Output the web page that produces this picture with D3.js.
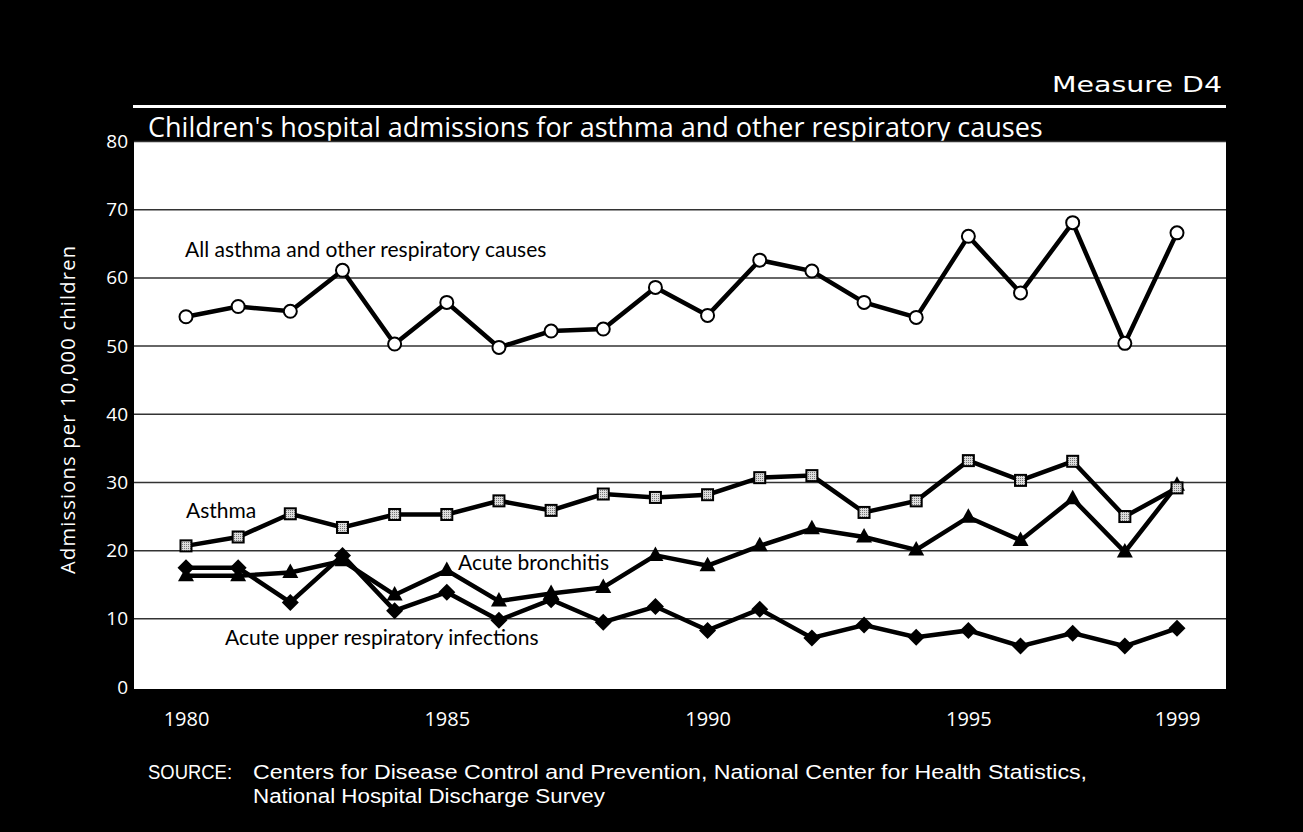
<!DOCTYPE html>
<html><head><meta charset="utf-8">
<script src="https://cdn.jsdelivr.net/npm/d3@7"></script>
<style>
html,body{margin:0;padding:0;background:#000;}
svg{display:block;}
</style></head>
<body>
<script>
const years = [1980,1981,1982,1983,1984,1985,1986,1987,1988,1989,1990,1991,1992,1993,1994,1995,1996,1997,1998,1999];
const allCauses = [54.3,55.8,55.1,61.1,50.3,56.4,49.8,52.2,52.5,58.6,54.5,62.6,61.0,56.4,54.2,66.1,57.8,68.1,50.4,66.6];
const asthma = [20.7,22.0,25.4,23.4,25.3,25.3,27.3,25.9,28.3,27.8,28.2,30.7,31.0,25.6,27.3,33.2,30.3,33.1,25.0,29.2];
const bronchitis = [16.3,16.3,16.8,18.5,13.5,17.1,12.6,13.7,14.6,19.3,17.8,20.7,23.2,22.0,20.1,24.9,21.5,27.6,19.8,29.6];
const upperResp = [17.5,17.5,12.4,19.3,11.2,13.9,9.8,12.8,9.5,11.8,8.3,11.4,7.2,9.1,7.3,8.3,6.0,7.9,6.0,8.6];
const yTicks = [0,10,20,30,40,50,60,70,80];
const xTickYears = [1980,1985,1990,1995,1999];
const seriesLabels = ["All asthma and other respiratory causes","Asthma","Acute bronchitis","Acute upper respiratory infections"];

const W = 1303, H = 832;
const svg = d3.select("body").append("svg").attr("width",W).attr("height",H);
svg.append("rect").attr("width",W).attr("height",H).attr("fill","#000");

const plot = {left:134, right:1226, top:142, bottom:689};
const x = d3.scaleLinear().domain([1980,1999]).range([186,1177]);
const y = d3.scaleLinear().domain([0,80]).range([687,141.5]);
const serif = "'Open Sans', 'Noto Sans', sans-serif";

// header
svg.append("text").attr("x",1222).attr("y",92).attr("text-anchor","end")
  .attr("fill","#fff").attr("font-family","'DejaVu Sans', sans-serif").attr("font-size",22)
  .attr("textLength",170).attr("lengthAdjust","spacingAndGlyphs")
  .text("Measure D4");
svg.append("rect").attr("x",133).attr("y",105).attr("width",1093).attr("height",3).attr("fill","#fff");
svg.append("text").attr("x",148).attr("y",137).attr("fill","#fff")
  .attr("font-family",serif).attr("font-size",27)
  .text("Children's hospital admissions for asthma and other respiratory causes");

// plot background
svg.append("rect").attr("x",plot.left).attr("y",plot.top).attr("width",plot.right-plot.left)
  .attr("height",plot.bottom-plot.top).attr("fill","#fff");

// gridlines
svg.append("g").selectAll("line").data(yTicks.filter(d=>d>0)).join("line")
  .attr("x1",plot.left).attr("x2",plot.right)
  .attr("y1",d=>y(d)).attr("y2",d=>y(d))
  .attr("stroke","#333").attr("stroke-width",1.5);

// y axis tick labels
const yAxis = d3.axisLeft(y).tickValues(yTicks).tickSize(0).tickPadding(0).tickFormat(d3.format("d"));
const gy = svg.append("g").attr("transform","translate(128,0)").call(yAxis);
gy.select(".domain").remove();
gy.selectAll("text").attr("fill","#fff").attr("font-size",19).attr("font-family",serif);

// x axis labels
const xAxis = d3.axisBottom(x).tickValues(xTickYears).tickSize(0).tickPadding(0).tickFormat(d3.format("d"));
const gx = svg.append("g").attr("transform","translate(0,712)").call(xAxis);
gx.select(".domain").remove();
gx.selectAll("text").attr("fill","#fff").attr("font-size",20).attr("font-family",serif);

// y axis title
svg.append("text").attr("transform","translate(75,410) rotate(-90)").attr("text-anchor","middle")
  .attr("fill","#fff").attr("font-size",20).attr("font-family",serif)
  .attr("textLength",328)
  .text("Admissions per 10,000 children");

// lines
const line = d3.line().x((d,i)=>x(years[i])).y(d=>y(d));
const g = svg.append("g");
[upperResp, bronchitis, asthma, allCauses].forEach(s=>{
  g.append("path").datum(s).attr("d",line).attr("fill","none")
   .attr("stroke","#000").attr("stroke-width",4.5).attr("stroke-linejoin","miter");
});

// pattern for squares
const defs = svg.append("defs");
const pat = defs.append("pattern").attr("id","dots").attr("width",2).attr("height",2).attr("patternUnits","userSpaceOnUse");
pat.append("rect").attr("width",2).attr("height",2).attr("fill","#ddd");
pat.append("rect").attr("width",1).attr("height",1).attr("fill","#777");

g.append("g").selectAll("path").data(upperResp).join("path")
  .attr("transform",(d,i)=>`translate(${x(years[i])},${y(d)})`)
  .attr("d","M0,-8.5L8.5,0L0,8.5L-8.5,0Z").attr("fill","#000");
g.append("g").selectAll("path").data(bronchitis).join("path")
  .attr("transform",(d,i)=>`translate(${x(years[i])},${y(d)})`)
  .attr("d","M0,-9L8,5.5L-8,5.5Z").attr("fill","#000");
g.append("g").selectAll("rect").data(asthma).join("rect")
  .attr("x",(d,i)=>x(years[i])-5.5).attr("y",d=>y(d)-5.5).attr("width",11).attr("height",11)
  .attr("fill","url(#dots)").attr("stroke","#000").attr("stroke-width",2);
g.append("g").selectAll("circle").data(allCauses).join("circle")
  .attr("cx",(d,i)=>x(years[i])).attr("cy",d=>y(d)).attr("r",6.5)
  .attr("fill","#fff").attr("stroke","#000").attr("stroke-width",2);

// series labels
const labelPos = [[185,257],[186,518],[458,570],[225,645]];
svg.append("g").selectAll("text").data(seriesLabels).join("text")
  .attr("x",(d,i)=>labelPos[i][0]).attr("y",(d,i)=>labelPos[i][1])
  .attr("fill","#000").attr("font-size",21).attr("font-family","Lato, 'DejaVu Sans', sans-serif")
  .text(d=>d);

// source
const src = svg.append("g").attr("fill","#fff").attr("font-size",20)
  .attr("font-family","'Liberation Sans', Arial, sans-serif");
src.append("text").attr("x",148).attr("y",779).attr("textLength",84).attr("lengthAdjust","spacingAndGlyphs").text("SOURCE:");
src.append("text").attr("x",253).attr("y",779).attr("textLength",834).attr("lengthAdjust","spacingAndGlyphs")
  .text("Centers for Disease Control and Prevention, National Center for Health Statistics,");
src.append("text").attr("x",253).attr("y",803).attr("textLength",352).attr("lengthAdjust","spacingAndGlyphs")
  .text("National Hospital Discharge Survey");
</script>
</body></html>
